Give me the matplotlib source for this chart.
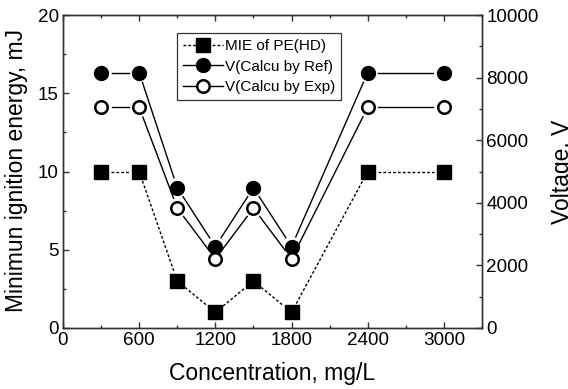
import numpy as np
import matplotlib
matplotlib.use("Agg")
import matplotlib.pyplot as plt
from matplotlib.lines import Line2D
from matplotlib.ticker import MultipleLocator

plt.rcParams['font.family'] = ['Liberation Sans', 'DejaVu Sans']

# data
conc = [300, 600, 900, 1200, 1500, 1800, 2400, 3000]          # mg/L
mie = [10, 10, 3, 1, 3, 1, 10, 10]                            # mJ (left axis)
v_ref = [8160, 8160, 4480, 2600, 4480, 2600, 8160, 8160]      # V (right axis)
v_exp = [7050, 7050, 3830, 2210, 3830, 2210, 7050, 7050]      # V (right axis)

labels = ['MIE of PE(HD)', 'V(Calcu by Ref)', 'V(Calcu by Exp)']

fig = plt.figure(figsize=(5.68, 3.89), dpi=100)
ax1 = fig.add_axes([63/568, 1-328/389, (482-63)/568, (328-15)/389])
ax2 = ax1.twinx()

ax1.set_xlim(0, 3300)
ax1.set_ylim(0, 20)
ax2.set_ylim(0, 10000)

spine_col = '#333333'
for ax in (ax1, ax2):
    for s in ax.spines.values():
        s.set_color(spine_col)
        s.set_linewidth(1.0)

ax1.xaxis.set_major_locator(MultipleLocator(600))
ax1.xaxis.set_minor_locator(MultipleLocator(300))
ax1.yaxis.set_major_locator(MultipleLocator(5))
ax1.yaxis.set_minor_locator(MultipleLocator(2.5))
ax2.yaxis.set_major_locator(MultipleLocator(2000))
ax2.yaxis.set_minor_locator(MultipleLocator(1000))

tick_fs = 13.6
ax1.tick_params(axis='both', which='major', direction='in', length=4, width=1,
                color=spine_col, labelsize=tick_fs, top=True, pad=3)
ax1.tick_params(axis='both', which='minor', direction='in', length=2.5, width=1,
                color=spine_col, top=True)
ax1.tick_params(axis='y', which='both', right=False)
ax2.tick_params(axis='y', which='major', direction='in', length=4, width=1,
                color=spine_col, labelsize=tick_fs, pad=3)
ax2.tick_params(axis='y', which='minor', direction='in', length=2.5, width=1,
                color=spine_col)

lab_fs = 16.5
ax1.set_xlabel('Concentration, mg/L', fontsize=lab_fs, labelpad=9)
fig.text(5/568, 1-171/389, 'Minimun ignition energy, mJ', rotation=90,
         fontsize=lab_fs, ha='left', va='center')
fig.text(551/568, 1-172/389, 'Voltage, V', rotation=90, fontsize=lab_fs,
         ha='left', va='center')


def gapped(ax, x, y, gap, **kw):
    # draw the connecting line with small gaps around each marker
    pts = ax.transData.transform(np.column_stack([x, y]))
    inv = ax.transData.inverted()
    for p0, p1 in zip(pts[:-1], pts[1:]):
        d = p1 - p0
        u = d / np.hypot(*d)
        seg = inv.transform(np.array([p0 + u*gap, p1 - u*gap]))
        ax.plot(seg[:, 0], seg[:, 1], **kw)


ms = 9.5
gapped(ax1, conc, mie, 10, color='black', lw=1, dashes=(2, 1.5))
gapped(ax2, conc, v_ref, 10.5, color='black', lw=1)
gapped(ax2, conc, v_exp, 10.5, color='black', lw=1)

ax1.plot(conc, mie, ls='none', marker='s', ms=ms, color='black')
ax2.plot(conc, v_ref, ls='none', marker='o', ms=ms+0.5, color='black')
ax2.plot(conc, v_exp, ls='none', marker='o', ms=ms-0.5, mfc='white',
         mec='black', mew=1.8)

handles = [
    Line2D([], [], color='black', lw=1, dashes=(2, 1.5), marker='s', ms=ms),
    Line2D([], [], color='black', lw=1, marker='o', ms=ms+0.5),
    Line2D([], [], color='black', lw=1, marker='o', ms=ms-0.5, mfc='white',
           mec='black', mew=1.8),
]
leg = ax1.legend(handles, labels, loc='upper left', bbox_to_anchor=(0.272, 0.942),
                 borderaxespad=0, fontsize=11, frameon=True, fancybox=False,
                 edgecolor='black', handlelength=2.6, handletextpad=0.15,
                 labelspacing=0.42, borderpad=0.4)
leg.get_frame().set_linewidth(0.9)
leg.set_zorder(5)

fig.savefig('out.png', dpi=100)
